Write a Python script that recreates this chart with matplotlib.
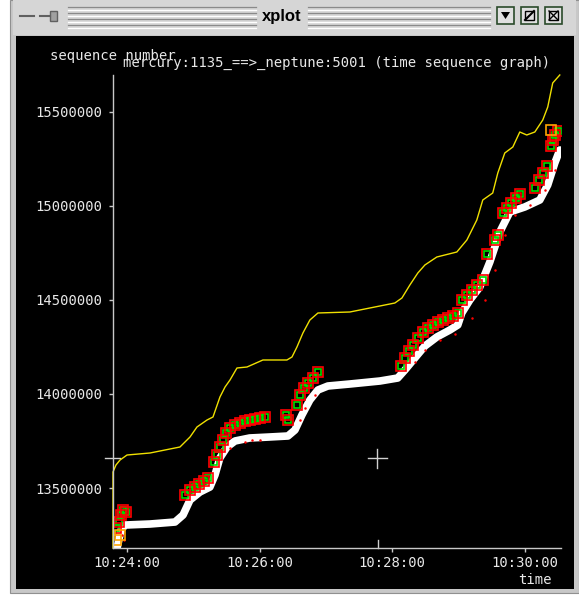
import matplotlib.pyplot as plt
from matplotlib.patches import Rectangle, Polygon

plt.rcParams['font.family'] = ['DejaVu Sans Mono']

# time in seconds after 10:24:00, sequence numbers
xtick_pos = [0, 120, 240, 360]
xtick_labels = ['10:24:00', '10:26:00', '10:28:00', '10:30:00']
ytick_pos = [13500000, 14000000, 14500000, 15000000, 15500000]

# receive window line (yellow)
win_t = [-12.7, -12.7, -10, -6.3, 0, 20.8, 47.9, 57, 63.3, 72.4, 77.8, 84.1, 88.7, 93.2,
         99.5, 108.6, 123, 144.7, 149.3, 153.8, 159.2, 165.5, 172.8, 201.7, 242.4, 248.8,
         256, 263.2, 269.6, 280.4, 298.5, 307.6, 316.6, 322, 331, 335.6, 341.9, 349.2,
         355.5, 361.8, 369.1, 376.3, 380.8, 385.3, 391.7]
win_seq = [13180900, 13585100, 13622400, 13649000, 13675500, 13686200, 13718100, 13771300,
           13824500, 13861700, 13877700, 13984000, 14037200, 14074500, 14138300, 14143600,
           14180900, 14180900, 14196800, 14250000, 14324500, 14393600, 14430900, 14436200,
           14484000, 14510600, 14579800, 14643600, 14686200, 14728700, 14755300, 14819100,
           14925500, 15031900, 15069100, 15175500, 15281900, 15313800, 15393600, 15377700,
           15393600, 15457400, 15526600, 15654300, 15696800]

# data segments (white band)
seg_t = [-9, -5.4, -1.8, 20.8, 43.4, 50.7, 57, 66, 75, 79.6, 84, 90.5, 97.7, 111, 129,
         145.6, 152, 158.3, 165.5, 172.8, 181.8, 201.7, 228.9, 245, 251.5, 260.5, 269.6,
         280.4, 292.2, 299.4, 303, 310.3, 319.3, 328.4, 337.4, 346.5, 360, 373.6, 380.8,
         387.2, 391.7]
seg_seq = [13180900, 13276600, 13303000, 13308500, 13319000, 13356400, 13436000, 13478700,
           13505000, 13569000, 13659600, 13718000, 13750000, 13766000, 13771300, 13776600,
           13808500, 13888300, 13968000, 14021300, 14042500, 14053200, 14069100, 14085000,
           14127700, 14191500, 14255300, 14303200, 14340400, 14367000, 14430900, 14500000,
           14569100, 14702100, 14861700, 14968100, 14994700, 15031900, 15111700, 15228700,
           15297900]

# retransmit / sack boxes (red + green)
box_t = [-10.0, -7.2, -5.4, -3.6, -0.9,
         52.5, 57.0, 61.5, 65.2, 69.7, 73.3,
         78.7, 81.5, 84.2, 86.9, 89.6, 93.2, 97.7, 102.3, 106.8, 111.3, 115.8, 120.4, 124.9,
         143.9, 145.7,
         153.9, 156.6, 160.2, 163.8, 168.3, 172.8,
         247.9, 251.6, 255.2, 258.8, 263.4, 267.9, 272.4, 276.9, 281.5, 286.0, 290.5, 295.0, 299.6,
         303.2, 307.7, 312.2, 316.7, 322.2, 325.8,
         333.0, 335.7,
         340.3, 343.9, 347.5, 352.0, 355.6,
         369.2, 372.9, 376.5, 380.1,
         383.7, 385.5, 387.3, 390.1]
box_seq = [13287250, 13319170, 13356400, 13383000, 13372360,
           13462780, 13489380, 13505330, 13521290, 13537250, 13553200,
           13638310, 13675540, 13718090, 13755330, 13792560, 13819150, 13835110, 13845750,
           13856390, 13861710, 13867030, 13872340, 13877660,
           13888300, 13861710,
           13941490, 13994680, 14031910, 14058510, 14085100, 14117020,
           14148930, 14191480, 14228720, 14260630, 14297860, 14329780, 14351050, 14367010,
           14382970, 14393610, 14404240, 14414880, 14430840,
           14499990, 14526580, 14553180, 14579770, 14606370, 14744660,
           14819130, 14845720,
           14962740, 14989330, 15015930, 15042520, 15063800,
           15095710, 15138270, 15175500, 15212730,
           15319110, 15351030, 15377620, 15398900]

orange_t = [-10, -6.3, 383.7]
orange_seq = [13223430, 13250020, 15404220]

dot_t = [-4.5, -2.7, 93.2, 106.8, 113.1, 120.4, 156.6, 161.1, 170.1, 260.6, 269.7, 283.3,
         296.8, 312.2, 324.0, 333.0, 342.1, 351.1, 364.7, 378.3, 387.3]
dot_seq = [13250020, 13223430, 13712770, 13744690, 13755330, 13755330, 13861710, 13925530,
           13994680, 14170210, 14234040, 14287230, 14319140, 14404240, 14499990, 14659560,
           14845720, 14952100, 15005290, 15085080, 15191460]

W, H = 579, 595
fig = plt.figure(figsize=(W / 100, H / 100), dpi=100)
fig.patch.set_facecolor('white')

# window decoration, in pixel coords
bg = fig.add_axes([0, 0, 1, 1])
bg.set_xlim(0, W)
bg.set_ylim(H, 0)
bg.axis('off')
bg.add_patch(Rectangle((10, 0), 569, 593, facecolor='#c8c8c8', edgecolor='#909090', lw=0.8))
bg.add_patch(Rectangle((13, 0), 563, 35, facecolor='#d6d6d6', edgecolor='none'))
bg.add_patch(Rectangle((16, 36), 558, 553, facecolor='black', edgecolor='none'))
for yy in [7, 10, 13, 16, 19, 22, 25, 28]:
    c = '#8a8a8a' if yy % 2 else 'white'
    bg.plot([68, 256], [yy, yy], color=c, lw=0.9)
    bg.plot([308, 490], [yy, yy], color=c, lw=0.9)
bg.text(282, 16, 'xplot', ha='center', va='center', fontsize=12, fontweight='bold',
        family='Liberation Sans', color='black')
bg.plot([20, 34], [16, 16], color='#606060', lw=1.5)
bg.plot([40, 50], [16, 16], color='#606060', lw=1.5)
bg.add_patch(Rectangle((50, 11), 7, 10, facecolor='#a0a0a0', edgecolor='#606060', lw=1))
for bx in [497, 521, 545]:
    bg.add_patch(Rectangle((bx, 7), 17, 17, facecolor='#e0e0e0', edgecolor='#2a4a2a', lw=1.2))
bg.add_patch(Polygon([[501, 12], [510, 12], [505.5, 19]], closed=True, facecolor='black'))
bg.plot([525, 534], [20, 11], color='black', lw=1.5)
bg.add_patch(Rectangle((525, 11), 9, 9, facecolor='none', edgecolor='black', lw=1))
bg.plot([549, 558], [11, 20], color='black', lw=1)
bg.plot([549, 558], [20, 11], color='black', lw=1)
bg.add_patch(Rectangle((549, 11), 9, 9, facecolor='none', edgecolor='black', lw=1))

# crosshair cursor
cc = '#d0d0d0'
bg.plot([368, 387], [458, 458], color=cc, lw=1)
bg.plot([377, 377], [449, 468], color=cc, lw=1)
bg.plot([105, 120], [458, 458], color=cc, lw=1)
bg.plot([378, 378], [540, 548], color=cc, lw=1)

txt = '#e8e8e8'
bg.text(50, 56, 'sequence number', ha='left', va='center', fontsize=10, color=txt)
bg.text(123, 63, 'mercury:1135_==>_neptune:5001 (time sequence graph)', ha='left',
        va='center', fontsize=10, color=txt)
bg.text(535, 580, 'time', ha='center', va='center', fontsize=10, color=txt)

# plot area
ax = fig.add_axes([113 / W, 1 - 548 / H, (561 - 113) / W, (548 - 75) / H])
ax.set_facecolor('none')
ax.set_xlim(-12.7, 392.8)
ax.set_ylim(13180870, 15696760)

ax.plot(seg_t, seg_seq, color='white', lw=5.5, solid_capstyle='round', solid_joinstyle='round')
ax.plot(dot_t, dot_seq, 'o', color='red', ms=1.8, mew=0)
ax.plot(win_t, win_seq, color='#f0e000', lw=1.0, clip_on=False)
ax.plot(box_t, box_seq, 's', mfc='none', mec='#00dd00', ms=4.5, mew=1.2, ls='none')
ax.plot(box_t, box_seq, 's', mfc='none', mec='red', ms=6.5, mew=1.2, ls='none')
ax.plot(orange_t, orange_seq, 's', mfc='none', mec='orange', ms=6.5, mew=1.2, ls='none')

for s in ['top', 'right']:
    ax.spines[s].set_visible(False)
for s in ['left', 'bottom']:
    ax.spines[s].set_color('#c8c8c8')
    ax.spines[s].set_linewidth(1)
ax.set_xticks(xtick_pos)
ax.set_xticklabels(xtick_labels)
ax.set_yticks(ytick_pos)
ax.set_yticklabels([str(v) for v in ytick_pos])
ax.tick_params(axis='y', colors='#c8c8c8', labelcolor=txt, length=3, width=1, pad=5,
               labelsize=10)
ax.tick_params(axis='x', colors='#c8c8c8', labelcolor=txt, length=3, width=1, pad=3,
               labelsize=10)

fig.savefig('out.png', dpi=100, facecolor='white')
